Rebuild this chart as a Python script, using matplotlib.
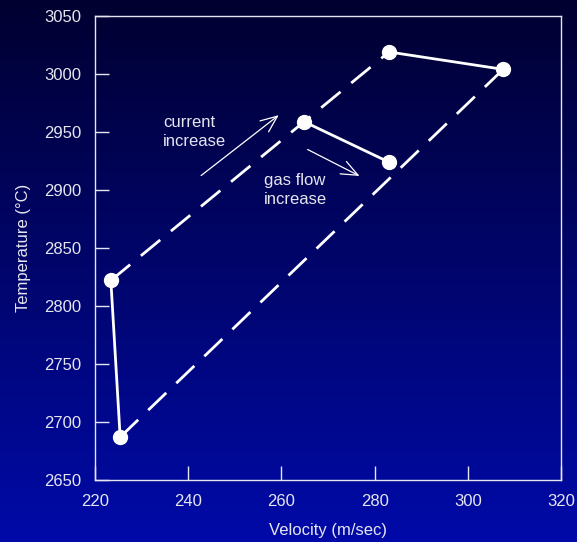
import numpy as np
import matplotlib
matplotlib.use("Agg")
import matplotlib.pyplot as plt

plt.rcParams["font.family"] = ["Liberation Sans", "DejaVu Sans"]

# measured points (velocity m/s, temperature C)
low_current = [(223.4, 2822), (225.4, 2687)]
mid_pair = [(264.8, 2959), (283.1, 2924)]
high_pair = [(283.1, 3019), (307.6, 3004)]
dash_upper = [low_current[0], high_pair[0]]
dash_lower = [low_current[1], high_pair[1]]

xticks = [220, 240, 260, 280, 300, 320]
yticks = [2650, 2700, 2750, 2800, 2850, 2900, 2950, 3000, 3050]

FG = "#e6e6f0"

fig = plt.figure(figsize=(5.77, 5.42), dpi=100)

# background gradient: dark navy at top -> blue at bottom
bg = fig.add_axes([0, 0, 1, 1], zorder=-10)
grad = np.linspace(0, 1, 256).reshape(-1, 1)
top = np.array([0, 0, 48]) / 255
bot = np.array([0, 10, 168]) / 255
img = top + (bot - top) * grad[:, :, None]
bg.imshow(img, aspect="auto", extent=[0, 1, 0, 1])
bg.axis("off")

ax = fig.add_axes([95 / 577, 1 - 480 / 542, 466 / 577, 464 / 542])
ax.patch.set_alpha(0)

def xy(pts):
    return [p[0] for p in pts], [p[1] for p in pts]

for pts in (dash_upper, dash_lower):
    x, y = xy(pts)
    ax.plot(x, y, color="white", lw=2, dashes=(9, 5), zorder=2)
for pts in (low_current, mid_pair, high_pair):
    x, y = xy(pts)
    ax.plot(x, y, color="white", lw=2, marker="o", ms=10, mec="white", zorder=3)

arrow = dict(arrowstyle="->,head_length=0.6,head_width=0.25", color="white", lw=0.9,
             mutation_scale=20)
ax.annotate("", xy=(259.9, 2966), xytext=(242.3, 2911), arrowprops=arrow)
ax.annotate("", xy=(277.3, 2911), xytext=(265.1, 2936), arrowprops=arrow)
ax.text(234.6, 2965, "current\nincrease", color=FG, fontsize=12, va="top", ha="left",
        linespacing=1.4)
ax.text(256.3, 2915, "gas flow\nincrease", color=FG, fontsize=12, va="top", ha="left",
        linespacing=1.4)

ax.set_xlim(220, 320)
ax.set_ylim(2650, 3050)
ax.set_xticks(xticks)
ax.set_yticks(yticks)
ax.set_yticks([2650, 3050], minor=True)
ax.tick_params(which="major", direction="in", length=10, color=FG, labelcolor=FG,
               labelsize=12, width=1, pad=10)
ax.tick_params(axis="y", which="minor", direction="out", length=10, color=FG, width=1)
for s in ax.spines.values():
    s.set_color(FG)
    s.set_linewidth(1)
ax.set_xlabel("Velocity (m/sec)", color=FG, fontsize=12, labelpad=10)
ax.set_ylabel("Temperature (°C)", color=FG, fontsize=12, labelpad=9)

fig.savefig("out.png", dpi=100)
